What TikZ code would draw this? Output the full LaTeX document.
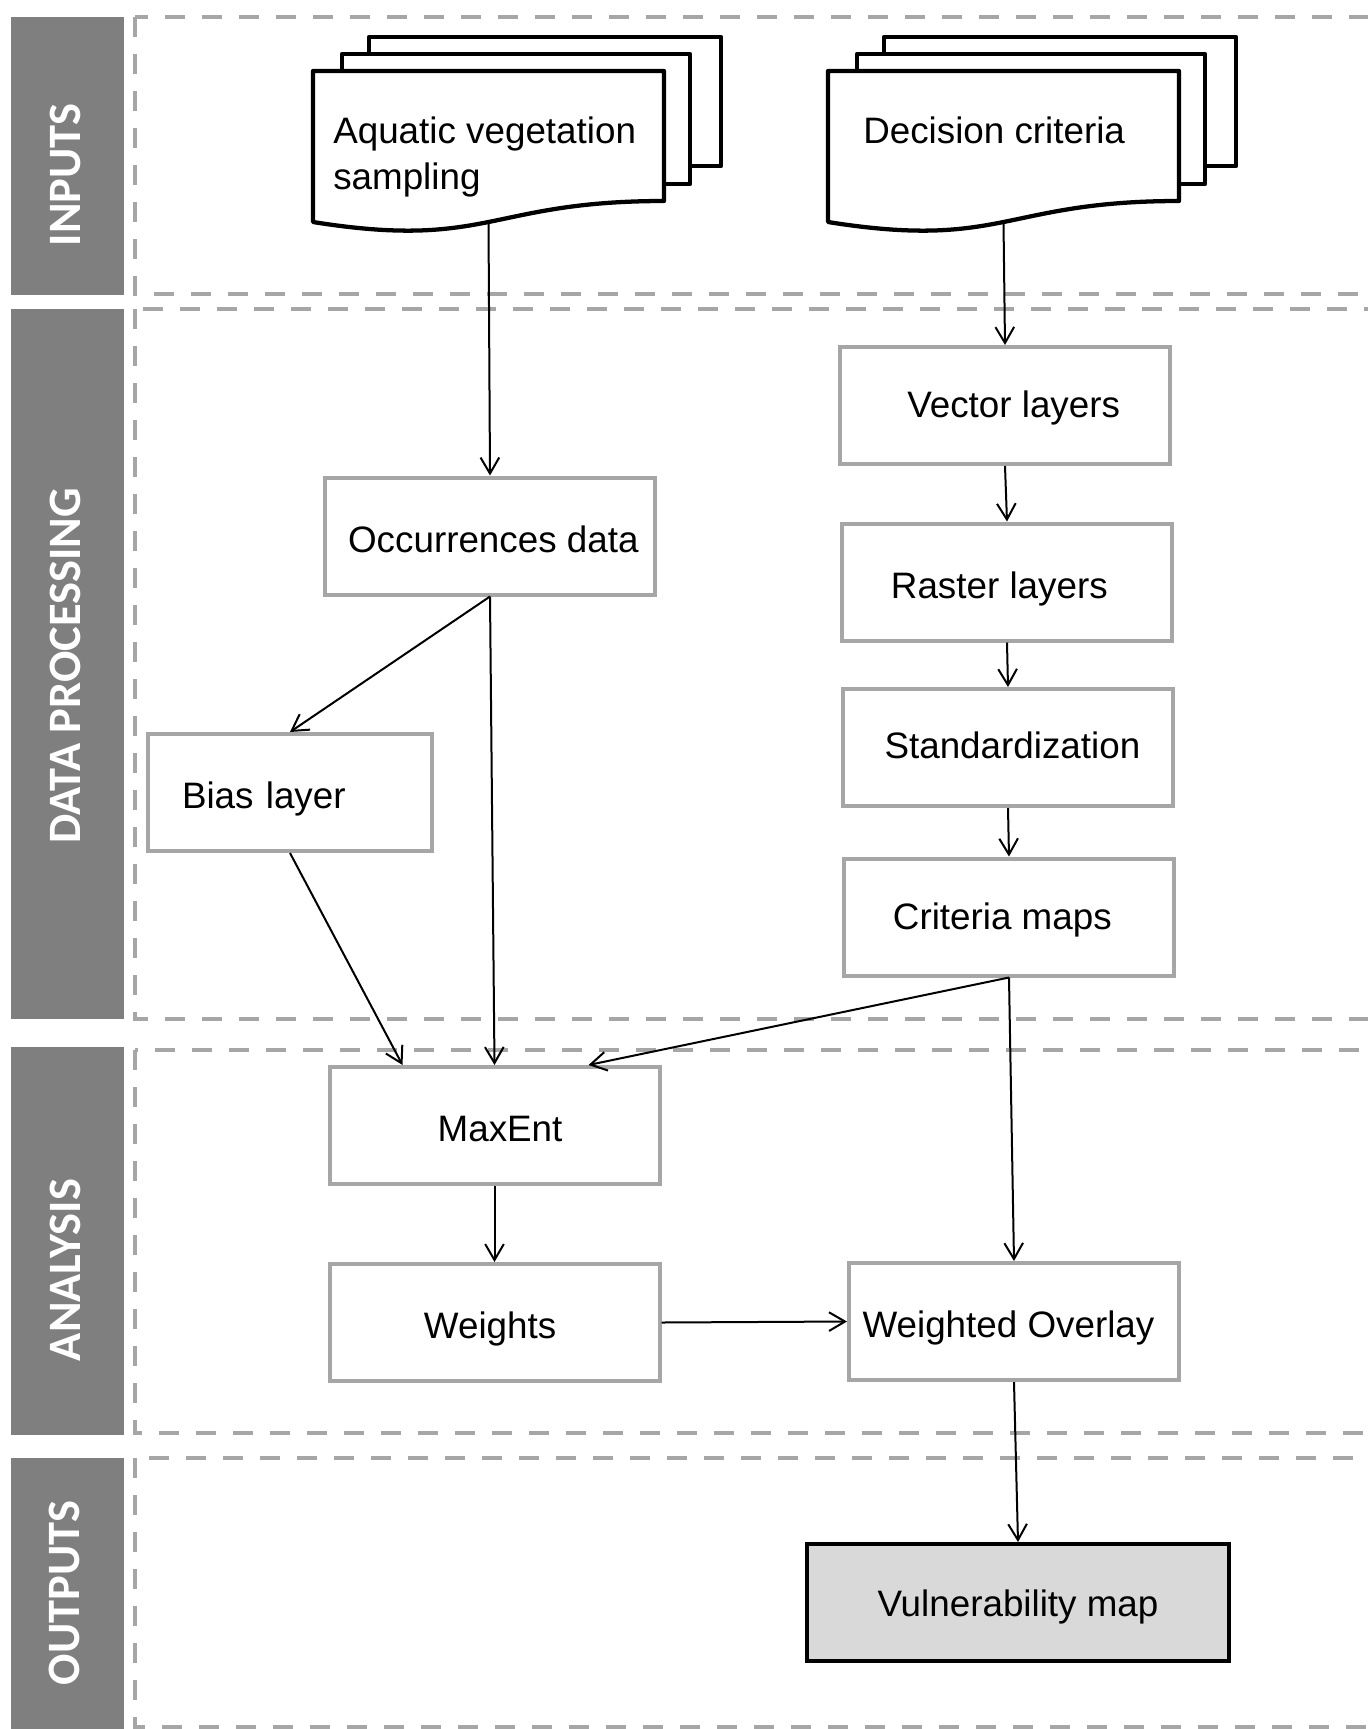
\documentclass[tikz,border=0pt]{standalone}
\usepackage{fontspec}
\setmainfont{Liberation Sans}
\newfontfamily\lanefont{Carlito}
\usetikzlibrary{arrows.meta,calc}

\definecolor{boxgray}{RGB}{166,166,166}
\definecolor{bargray}{RGB}{127,127,127}
\definecolor{mapgray}{RGB}{217,217,217}

\begin{document}
\begin{tikzpicture}[x=0.75pt,y=0.75pt,yscale=-1,xscale=1,
  lane/.style={draw=boxgray,line width=3pt,dash pattern=on 15pt off 12.75pt},
  lanebar/.style={fill=bargray},
  lanetext/.style={rotate=90,text=white,inner sep=0pt,font=\lanefont\bfseries\fontsize{34.8}{40}\selectfont},
  procbox/.style={draw=boxgray,line width=3pt,fill=white,minimum width=247.5pt,minimum height=87.75pt,inner sep=0pt,text height=25pt,text depth=0.6pt,font=\fontsize{27.6}{31.7}\selectfont},
  docsheet/.style={draw=black,line width=3.2pt,fill=white,line join=round},
  doctext/.style={inner sep=0pt,align=left,font=\fontsize{27.6}{34.5}\selectfont},
  flow/.style={line width=1.5pt,-{Straight Barb[length=12pt,width=14pt]}}
]
\useasboundingbox (0,0) rectangle (1368,1729);
\clip (0,0) rectangle (1368,1729);

%Lanes
\fill[lanebar] (11,17) rectangle (124,295);
\fill[lanebar] (11,309) rectangle (124,1019);
\fill[lanebar] (11,1047) rectangle (124,1435);
\fill[lanebar] (11,1458) rectangle (124,1729);
\draw[lane] (135,17) rectangle (1400,294);
\draw[lane] (135,309) rectangle (1400,1019);
\draw[lane] (135,1050) rectangle (1400,1433);
\draw[lane] (135,1458) rectangle (1400,1727);

% Lane labels
\node[lanetext] (inputs) at (65,175) {INPUTS};
\node[lanetext] (dataproc) at (65,666) {DATA PROCESSING};
\node[lanetext] (analysis) at (65,1270) {ANALYSIS};
\node[lanetext] (outputs) at (64,1593) {OUTPUTS};

%Multidocument: aquatic vegetation
\draw[docsheet] (369,37) rectangle (721,166);
\draw[docsheet] (342,54) rectangle (690,184);
\draw[docsheet] (313,71) -- (664,71) -- (664,201) .. controls (488.5,201) and (488.5,250) .. (313,222) -- cycle;
%Multidocument: decision criteria
\draw[docsheet] (884,37) rectangle (1236,166);
\draw[docsheet] (857,54) rectangle (1205,184);
\draw[docsheet] (828,71) -- (1179,71) -- (1179,201) .. controls (1003.5,201) and (1003.5,250) .. (828,222) -- cycle;

% Text Node
\node[doctext,anchor=north west] (aqu) at (333,117) {Aquatic vegetation\\sampling};
% Text Node
\node[doctext,anchor=north west] (dec) at (863,117) {Decision criteria};
\coordinate (aqu-out) at (488.5,222);
\coordinate (dec-out) at (1003.5,222);

% Boxes
\node[procbox] (occ) at (490,536) {\hspace*{5pt}Occurrences data};
\node[procbox] (vec) at (1005,405.5) {\hspace*{13pt}\raisebox{3.3pt}{Vector layers}};
\node[procbox] (ras) at (1007,582) {Raster layers\hspace*{11.5pt}};
\node[procbox] (std) at (1008,747.5) {\hspace*{6.6pt}\raisebox{4pt}{Standardization}};
\node[procbox] (crit) at (1009,917) {\raisebox{2.5pt}{Criteria maps}\hspace*{10pt}};
\node[procbox,minimum width=213pt,text width=162pt,inner xsep=25.5pt,align=left] (bias) at (290,792.5) {Bias layer};
\node[procbox] (maxent) at (494.5,1125.5) {\hspace*{8.3pt}MaxEnt};
\node[procbox] (wts) at (494.5,1322.5) {Weights\hspace*{6.6pt}};
\node[procbox] (wov) at (1014,1321.5) {Weighted Overlay\hspace*{8.3pt}};
\node[procbox,draw=black,fill=mapgray,minimum width=316.5pt] (vul) at (1018,1602.5) {\raisebox{1.5pt}{Vulnerability map}};

%Connectors
\draw[flow] (aqu-out) -- (occ.north);
\draw[flow] (dec-out) -- (vec.north);
\draw[flow] (vec.south) -- (ras.north);
\draw[flow] (ras.south) -- (std.north);
\draw[flow] (std.south) -- (crit.north);
\draw[flow] (occ.south) -- (bias.north);
\draw[flow] (occ.south) -- (maxent.north);
\draw[flow] (bias.south) -- ($(maxent.north west)+(75,0)$);
\draw[flow] (crit.south) -- ($(maxent.north east)+(-73,0)$);
\draw[flow] (crit.south) -- (wov.north);
\draw[flow] (maxent.south) -- (wts.north);
\draw[flow] (wts.east) -- (wov.west);
\draw[flow] (wov.south) -- (vul.north);

\end{tikzpicture}
\end{document}
